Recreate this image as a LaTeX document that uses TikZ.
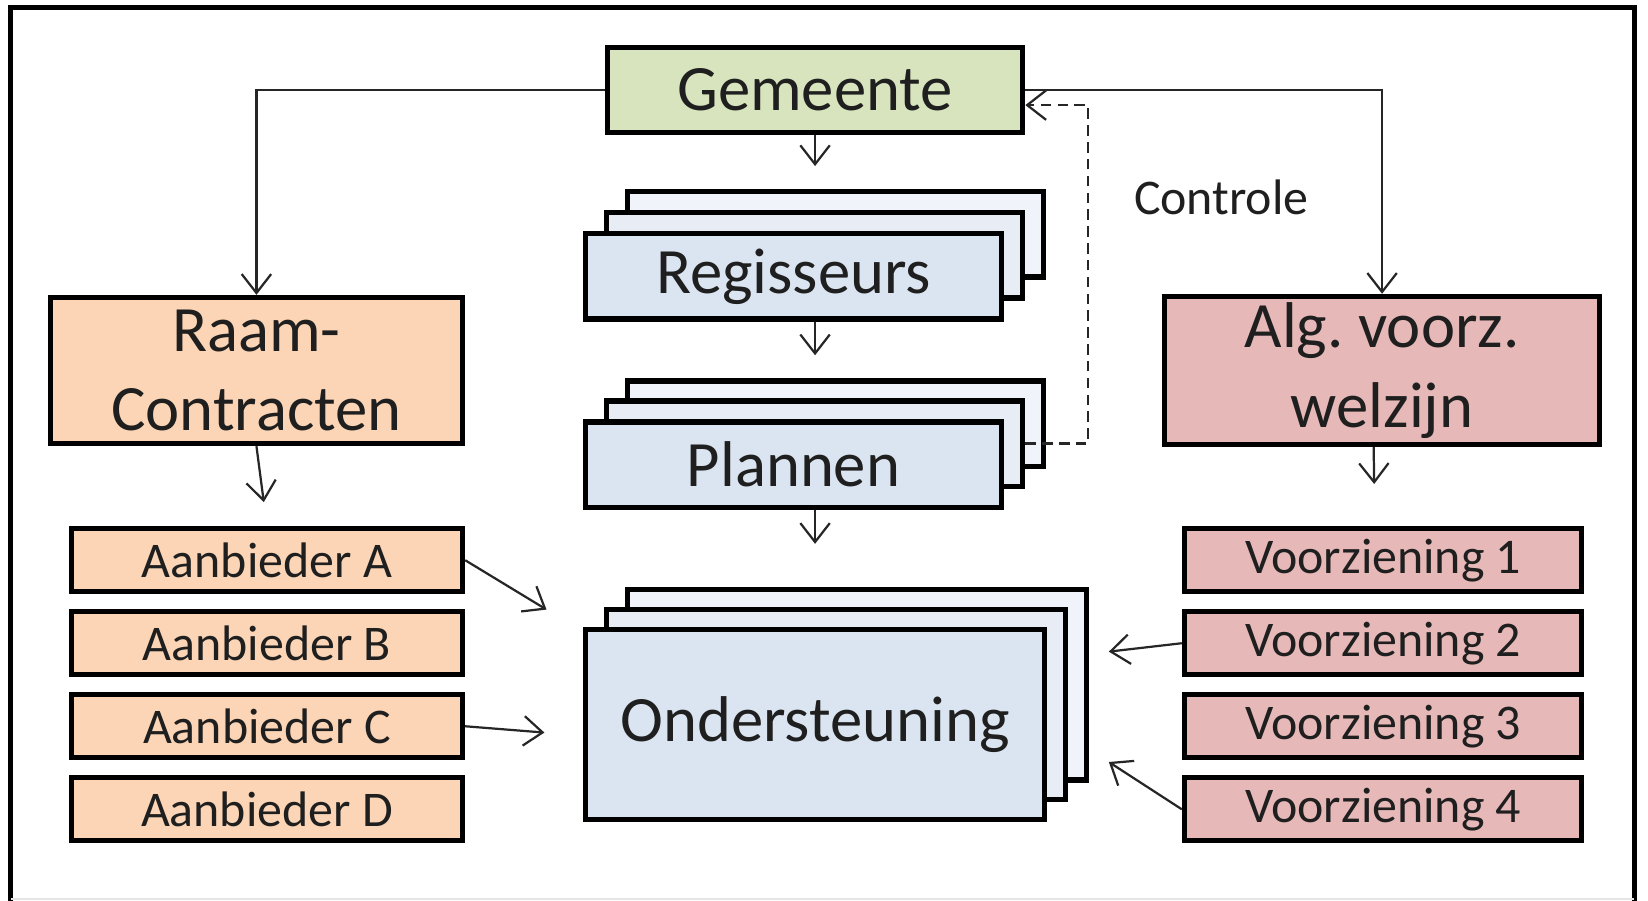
\documentclass[tikz,border=0pt]{standalone}
\usepackage{fontspec}
\setmainfont{Carlito}
\usetikzlibrary{arrows.meta}
\definecolor{gemfill}{HTML}{D7E4BD}
\definecolor{orfill}{HTML}{FBD5B5}
\definecolor{rdfill}{HTML}{E6B9B8}
\definecolor{blfront}{HTML}{DBE5F1}
\definecolor{blmid}{HTML}{E8EDF5}
\definecolor{blback}{HTML}{F0F3F9}
\definecolor{txt}{HTML}{1F1F1F}
\frenchspacing
\begin{document}
\begin{tikzpicture}[x=0.01cm,y=-0.01cm,
  box/.style={draw=black, line width=1.4pt, inner sep=0pt, text=txt},
  big/.style={font=\fontsize{17.5}{21.5}\selectfont, align=center},
  small/.style={font=\fontsize{13.5}{16}\selectfont},
  smallbox/.style={box, small, minimum height=0.60cm},
  stackbox/.style={box, minimum width=3.96cm, minimum height=0.81cm},
  ondbox/.style={box, minimum width=4.37cm, minimum height=1.81cm},
  arr/.style={-{Straight Barb[length=1.8mm,width=2.8mm]}, line width=0.6pt, draw=black!85},
  ctrl/.style={arr, dash pattern=on 0.1cm off 0.06cm}]
\useasboundingbox (0,0) rectangle (1568,857);
% frame
\draw[line width=1.2pt] (10,870) -- (10,7) -- (1555,7) -- (1555,870);
\draw[gray!20, line width=0.5pt] (10,855) -- (1555,855);

% top
\node[box, fill=gemfill, big, minimum width=3.95cm, minimum height=0.81cm] (gem) at (775.5,85.5) {Gemeente};

% Regisseurs stack
\node[stackbox, fill=blback] (reg3) at (795,223) {};
\node[stackbox, fill=blmid] (reg2) at (775,243) {};
\node[stackbox, fill=blfront, big] (reg1) at (755,263) {Regisseurs};

% Plannen stack
\node[stackbox, fill=blback] (plan3) at (795,403) {};
\node[stackbox, fill=blmid] (plan2) at (775,422) {};
\node[stackbox, fill=blfront, big] (plan1) at (755,442) {Plannen};

% Ondersteuning stack
\node[ondbox, fill=blback] (ond3) at (815.5,651.5) {};
\node[ondbox, fill=blmid] (ond2) at (795.5,670.5) {};
\node[ondbox, fill=blfront, big] (ond1) at (775.5,689.5) {Ondersteuning};

% left column
\node[box, fill=orfill, big, minimum width=3.92cm, minimum height=1.39cm] (raam) at (244,352.5) {Raam-\\Contracten};
\node[smallbox, fill=orfill, minimum width=3.72cm] (aa) at (254,533) {Aanbieder A};
\node[smallbox, fill=orfill, minimum width=3.72cm] (ab) at (254,612) {Aanbieder B};
\node[smallbox, fill=orfill, minimum width=3.72cm] (ac) at (254,691) {Aanbieder C};
\node[smallbox, fill=orfill, minimum width=3.72cm] (ad) at (254,770) {Aanbieder D};

% right column
\node[box, fill=rdfill, big, minimum width=4.14cm, minimum height=1.41cm] (alg) at (1315,352.5) {Alg. voorz.\\welzijn};
\node[smallbox, fill=rdfill, minimum width=3.78cm] (v1) at (1316,533) {Voorziening 1};
\node[smallbox, fill=rdfill, minimum width=3.78cm] (v2) at (1316,612) {Voorziening 2};
\node[smallbox, fill=rdfill, minimum width=3.78cm] (v3) at (1316,691) {Voorziening 3};
\node[smallbox, fill=rdfill, minimum width=3.78cm] (v4) at (1316,770) {Voorziening 4};

% label
\node[small, text=txt] (lab) at (1162,188) {Controle};

% free ends
\coordinate (tA) at (520,580);
\coordinate (tC) at (518,697);
\coordinate (tV2) at (1055,620);
\coordinate (tV4) at (1055,725);
\coordinate (cc) at (1035,100);

% connectors
\draw[arr] (gem.west) -| (raam.north);
\draw[arr] (gem.east) -| (alg.north);
\draw[arr, shorten >=0.22cm] (gem.south) -- (gem.south |- reg3.north);
\draw[arr, shorten >=0.22cm] (reg1.south -| gem.south) -- (gem.south |- plan3.north);
\draw[arr, shorten >=0.41cm] (plan1.south -| gem.south) -- (gem.south |- ond3.north);
\draw[arr, shorten >=0.23cm] (raam.south) -- (aa.north);
\draw[arr, shorten >=0.40cm] ([xshift=-0.08cm]alg.south) -- ([xshift=-0.08cm]v1.north);
\draw[arr] (aa.east) -- (tA);
\draw[arr] (ac.east) -- (tC);
\draw[arr] (v2.west) -- (tV2);
\draw[arr] (v4.west) -- (tV4);
\draw[ctrl] (plan2.east) -| (cc) -- (gem.east |- cc);
\end{tikzpicture}
\end{document}
